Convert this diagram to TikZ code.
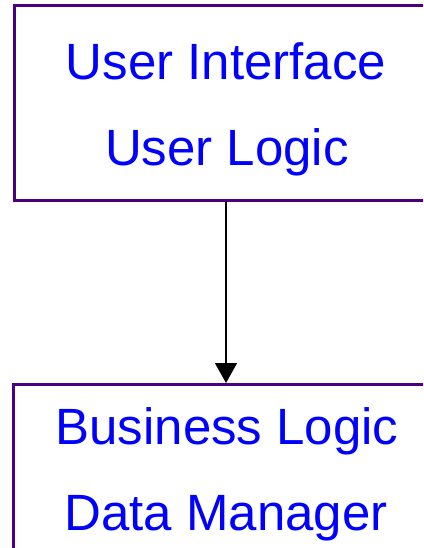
\documentclass[tikz,border=0pt]{standalone}
\usepackage{fontspec}
\setmainfont{Liberation Sans}
\usetikzlibrary{arrows.meta}
\definecolor{boxline}{RGB}{75,0,130}
\definecolor{txtblue}{RGB}{0,0,255}
\tikzset{
  tierbox/.style={draw=boxline, line width=3pt, minimum width=425pt, inner sep=0pt},
  tiertext/.style={anchor=base, inner sep=0pt, text=txtblue, font=\fontsize{51}{60}\selectfont},
  flow/.style={line width=1.5pt, -{Triangle[width=22pt,length=20pt]}}
}
\begin{document}
\begin{tikzpicture}[x=1pt,y=-1pt]
\useasboundingbox (0,0) rectangle (423,548);
\clip (0,0) rectangle (423,548);
\node[tierbox, minimum height=195pt] (top) at (226.5,103) {};
\node[tierbox, minimum height=400pt] (bottom) at (225.5,584.5) {};
\node[tiertext] (t1) at (226,80) {User Interface};
\node[tiertext] (t2) at (227,166) {User Logic};
\node[tiertext] (b1) at (227,444) {Business Logic};
\node[tiertext] (b2) at (226,530) {Data Manager};
\coordinate (arrowtop) at ([xshift=-0.5pt]top.south);
\draw[flow] (arrowtop) -- (arrowtop |- bottom.north);
\end{tikzpicture}
\end{document}
